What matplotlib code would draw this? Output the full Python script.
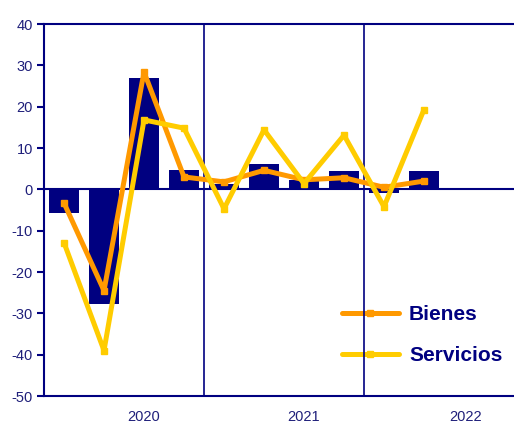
import numpy as np
import matplotlib
matplotlib.use("Agg")
import matplotlib.pyplot as plt

plt.rcParams['font.family'] = ['Liberation Sans', 'DejaVu Sans']
plt.rcParams['axes.unicode_minus'] = False

# quarterly data 2020Q1 - 2022Q2
total = [-5.8, -27.8, 26.9, 4.6, 1.4, 6.1, 2.2, 4.5, -1.0, 4.5]
bienes = [-3.3, -24.5, 28.4, 3.0, 1.8, 4.6, 2.3, 2.8, 0.5, 2.0]
servicios = [-12.9, -39.0, 16.8, 14.8, -4.7, 14.4, 1.4, 13.1, -4.2, 19.3]
years = ["2020", "2021", "2022"]

navy = "#000080"
txt = "#1f1f7a"

fig = plt.figure(figsize=(5.14, 4.23), dpi=100)
ax = fig.add_axes([44 / 514, 1 - 396 / 423, 1 - 44 / 514, (396 - 24) / 423])

x = np.arange(len(total))
ax.bar(x, total, width=0.75, color=navy, zorder=1)
ax.axhline(0, color=navy, lw=1.5, zorder=1.2)
for xv in [3.5, 7.5]:
    ax.axvline(xv, color=navy, lw=1.2, zorder=2)

ax.plot(x, bienes, color="#ff9900", lw=3.6, marker="s", ms=4.5,
        solid_capstyle="round", label="Bienes", zorder=3)
ax.plot(x, servicios, color="#ffcc00", lw=3.6, marker="s", ms=4.5,
        solid_capstyle="round", label="Servicios", zorder=3.1)

ax.set_xlim(-0.5, 11.25)
ax.set_ylim(-50, 40)
ax.set_yticks(range(-50, 41, 10))
ax.set_xticks([2.0, 6.0, 10.05])
ax.set_xticklabels(years)
ax.tick_params(axis="x", length=0, pad=10, labelsize=10.5, labelcolor=txt)
ax.tick_params(axis="y", direction="out", length=5, width=1.5, color=navy,
               pad=3, labelsize=10.5, labelcolor=txt)

for s in ["left", "top", "bottom"]:
    ax.spines[s].set_color(navy)
    ax.spines[s].set_linewidth(1.5)
ax.spines["right"].set_visible(False)

leg = ax.legend(loc="lower right", bbox_to_anchor=(1.015, 0.032), frameon=False,
                handlelength=2.7, handletextpad=0.5, labelspacing=1.05,
                prop={"size": 15, "weight": "bold"})
for t in leg.get_texts():
    t.set_color(navy)
leg.set_zorder(1.5)

fig.savefig("out.png", dpi=100)
